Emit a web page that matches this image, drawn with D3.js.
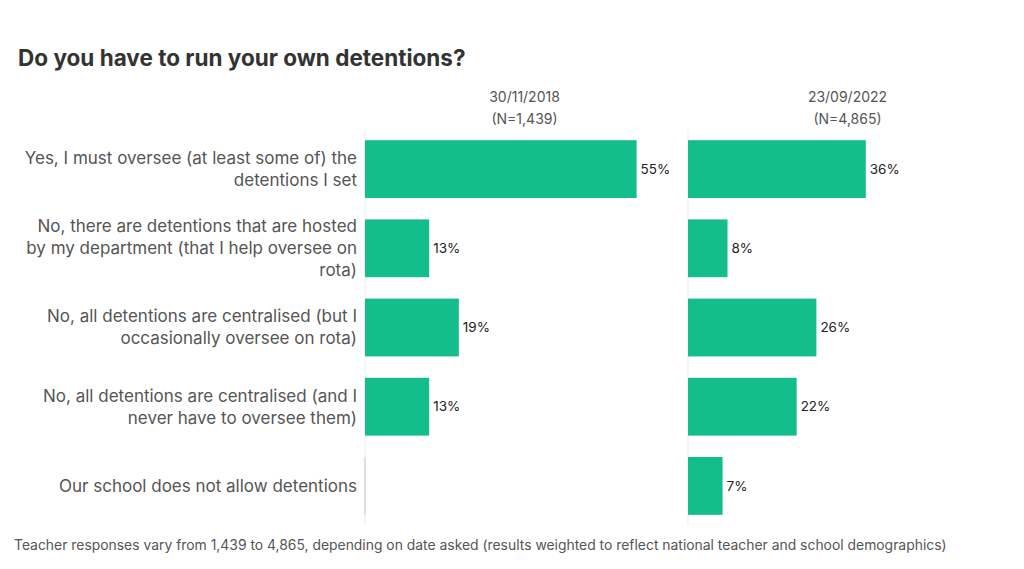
<!DOCTYPE html>
<html>
<head>
<meta charset="utf-8">
<script src="https://cdn.jsdelivr.net/npm/d3@7"></script>
<style>
  html, body { margin: 0; padding: 0; background: #fff; }
  svg { display: block; }
  text { font-family: Inter, "Open Sans", sans-serif; }
</style>
</head>
<body>
<svg id="chart" width="1024" height="569"></svg>
<script>
const title = "Do you have to run your own detentions?";
const footnote = "Teacher responses vary from 1,439 to 4,865, depending on date asked (results weighted to reflect national teacher and school demographics)";
const categories = [
  "Yes, I must oversee (at least some of) the\ndetentions I set",
  "No, there are detentions that are hosted\nby my department (that I help oversee on\nrota)",
  "No, all detentions are centralised (but I\noccasionally oversee on rota)",
  "No, all detentions are centralised (and I\nnever have to oversee them)",
  "Our school does not allow detentions"
];
const seriesDates = ["30/11/2018", "23/09/2022"];
const seriesN = ["(N=1,439)", "(N=4,865)"];
const values2018 = [55, 13, 19, 13, 0];
const values2022 = [36, 8, 26, 22, 7];
const seriesValues = [values2018, values2022];

const svg = d3.select("#chart");
const barColor = "#14bd8c";

svg.append("text")
  .attr("x", 18).attr("y", 66)
  .attr("font-size", 22.5).attr("font-weight", 700)
  .attr("fill", "#333")
  .text(title);

const y = d3.scaleBand()
  .domain(categories)
  .range([129.5, 525.5])
  .paddingInner(0.27)
  .paddingOuter(0.135);

// category labels
const labelG = svg.append("g");
categories.forEach(c => {
  const lines = c.split("\n");
  const cy = y(c) + y.bandwidth() / 2;
  const lh = 22;
  const t = labelG.append("text")
    .attr("text-anchor", "end")
    .attr("font-size", 17)
    .attr("fill", "#555");
  lines.forEach((ln, i) => {
    t.append("tspan")
      .attr("x", 357)
      .attr("y", cy + (i - (lines.length - 1) / 2) * lh)
      .attr("dy", "0.35em")
      .text(ln);
  });
});

const panelX = [365, 688];
const panelW = 321;

seriesValues.forEach((vals, si) => {
  const x = d3.scaleLinear().domain([0, 65]).range([panelX[si], panelX[si] + panelW]);
  const g = svg.append("g");
  const cx = x(0) + panelW / 2 - 1;

  g.append("text").attr("x", cx).attr("y", 102)
    .attr("text-anchor", "middle").attr("font-size", 14).attr("fill", "#555")
    .text(seriesDates[si]);
  g.append("text").attr("x", cx).attr("y", 124)
    .attr("text-anchor", "middle").attr("font-size", 14).attr("fill", "#555")
    .text(seriesN[si]);

  g.append("line")
    .attr("x1", x(0)).attr("x2", x(0))
    .attr("y1", y.range()[0]).attr("y2", y.range()[1])
    .attr("stroke", "#ececec").attr("stroke-width", 1);

  const rows = vals.map((v, i) => ({v, c: categories[i]}));

  g.selectAll("rect.bar").data(rows)
    .join("rect")
    .attr("class", "bar")
    .attr("x", x(0))
    .attr("y", d => y(d.c))
    .attr("width", d => x(d.v) - x(0))
    .attr("height", y.bandwidth())
    .attr("fill", barColor);

  // zero-value marker
  g.selectAll("line.zero").data(rows.filter(d => d.v === 0))
    .join("line")
    .attr("class", "zero")
    .attr("x1", x(0)).attr("x2", x(0))
    .attr("y1", d => y(d.c)).attr("y2", d => y(d.c) + y.bandwidth())
    .attr("stroke", "#d0d0d0").attr("stroke-width", 1.2);

  g.selectAll("text.val").data(rows.filter(d => d.v > 0))
    .join("text")
    .attr("class", "val")
    .attr("x", d => x(d.v) + 4)
    .attr("y", d => y(d.c) + y.bandwidth() / 2)
    .attr("dy", "0.35em")
    .attr("font-size", 13.5)
    .attr("fill", "#222")
    .text(d => d.v + "%");
});

svg.append("text")
  .attr("x", 14).attr("y", 550)
  .attr("font-size", 13.9).attr("fill", "#555")
  .text(footnote);
</script>
</body>
</html>
